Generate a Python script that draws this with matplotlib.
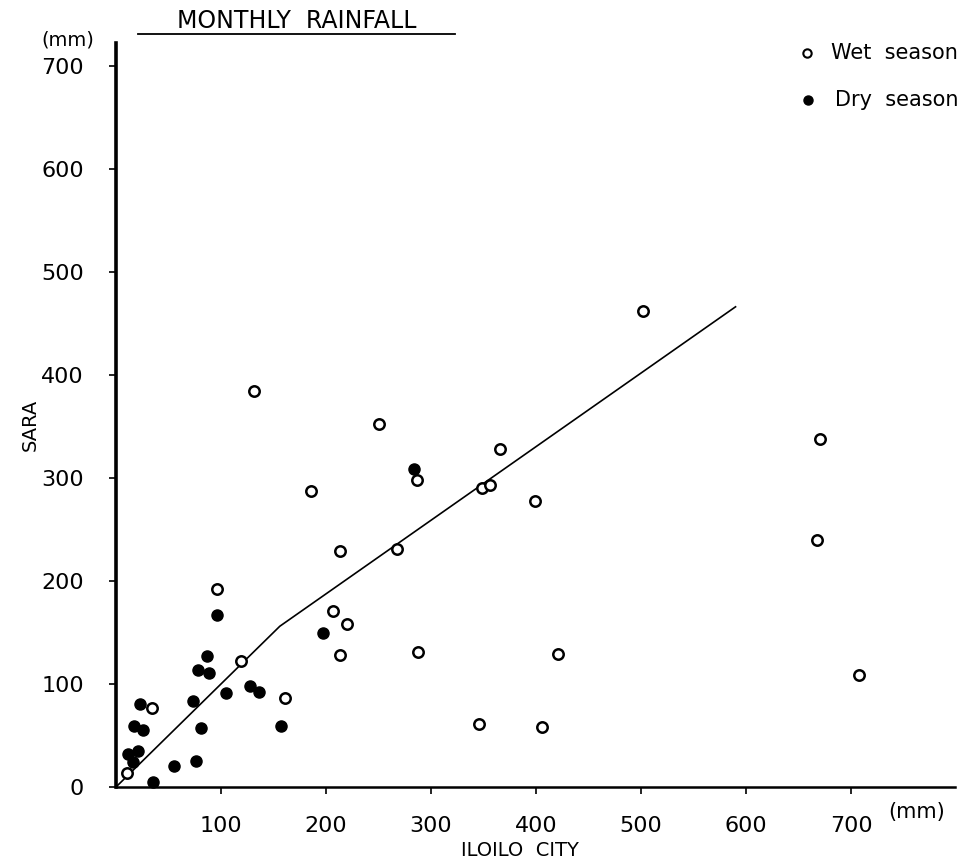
import matplotlib
matplotlib.use("Agg")
import matplotlib.pyplot as plt
from matplotlib.lines import Line2D

plt.rcParams['font.family'] = ['DejaVu Sans']

# monthly rainfall (mm), Iloilo City (x) against Sara (y)
wet_x = [10, 34, 96, 119, 131, 161, 186, 207, 213, 213, 220, 250, 268, 287,
         288, 346, 349, 356, 366, 399, 406, 421, 502, 668, 670, 708]
wet_y = [14, 77, 192, 122, 384, 86, 287, 171, 229, 128, 158, 352, 231, 298,
         131, 61, 290, 293, 328, 278, 58, 129, 462, 240, 338, 109]

dry_x = [96, 87, 78, 89, 105, 73, 23, 17, 26, 81, 21, 11, 16, 35, 55, 76,
         128, 136, 157, 197, 284]
dry_y = [167, 127, 114, 111, 91, 83, 81, 59, 55, 57, 35, 32, 24, 5, 20, 25,
         98, 92, 59, 149, 309]

# fitted line (broken at about 156 mm)
fit_x = [0, 156, 590]
fit_y = [0, 156, 466]

x_ticks = [100, 200, 300, 400, 500, 600, 700]
y_ticks = [0, 100, 200, 300, 400, 500, 600, 700]

W, H = 973, 864
fig = plt.figure(figsize=(W / 100, H / 100), dpi=100)
ax = fig.add_axes([116 / W, 1 - 787 / H, (955 - 116) / W, (787 - 43) / H])

ax.plot(fit_x, fit_y, color='black', lw=1.2)
ax.plot(wet_x, wet_y, 'o', ms=7.5, mfc='white', mec='black', mew=1.8,
        clip_on=False, zorder=3)
ax.plot(dry_x, dry_y, 'o', ms=8, mfc='black', mec='black', mew=1,
        clip_on=False, zorder=3)

ax.set_xlim(0, 799)
ax.set_ylim(0, 722)
ax.set_xticks(x_ticks)
ax.set_yticks(y_ticks)
ax.tick_params(axis='both', direction='out', length=5, width=1.2,
               labelsize=16, pad=16)
ax.tick_params(axis='y', pad=18)

for s in ['top', 'right']:
    ax.spines[s].set_visible(False)
ax.spines['left'].set_linewidth(2.6)
ax.spines['bottom'].set_linewidth(1.8)

fig.text(888 / W, 1 - 812 / H, "(mm)", fontsize=15, va='center', ha='left')
fig.text(94 / W, 1 - 40 / H, "(mm)", fontsize=14, va='center', ha='right')
fig.text(520 / W, 1 - 851 / H, "ILOILO  CITY", fontsize=14, va='center',
         ha='center')
fig.text(30 / W, 1 - 425 / H, "SARA", fontsize=14, va='center',
         ha='center', rotation=90)

# title with underline
fig.text(297 / W, 1 - 21 / H, "MONTHLY  RAINFALL", fontsize=17,
         va='center', ha='center')
fig.add_artist(Line2D([138 / W, 455 / W], [1 - 34 / H, 1 - 34 / H],
                      color='black', lw=1.3))

# key
fig.add_artist(Line2D([807 / W], [1 - 53 / H], marker='o', ms=6,
                      mfc='white', mec='black', mew=1.5))
fig.text(831 / W, 1 - 53 / H, "Wet  season", fontsize=15, va='center',
         ha='left')
fig.add_artist(Line2D([808 / W], [1 - 100 / H], marker='o', ms=6.5,
                      mfc='black', mec='black'))
fig.text(835 / W, 1 - 100 / H, "Dry  season", fontsize=15, va='center',
         ha='left')

fig.savefig("out.png", dpi=100)
